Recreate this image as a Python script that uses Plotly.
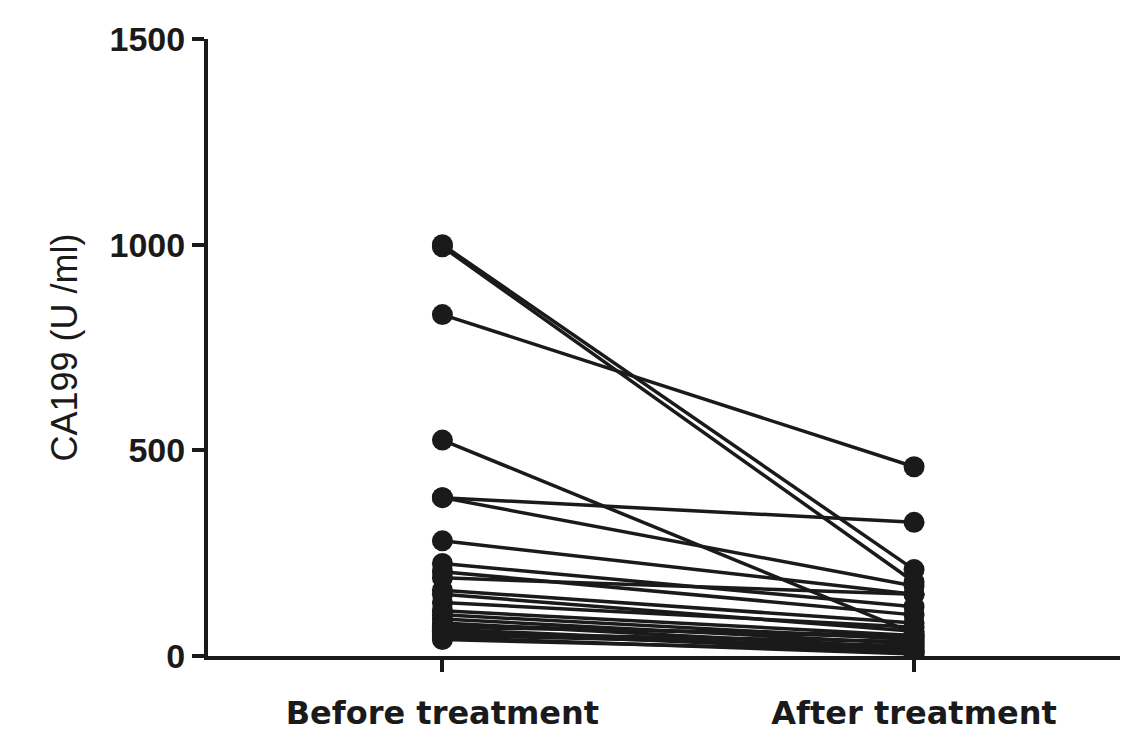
import plotly.graph_objects as go

groups = ["Before treatment", "After treatment"]
before = [1000, 995, 830, 525, 385, 385, 280, 225, 205, 190, 160, 150, 130, 110, 100, 90, 80, 75, 70, 65, 60, 55, 50, 45, 40]
after = [210, 180, 460, 55, 325, 170, 150, 120, 100, 150, 80, 60, 70, 50, 40, 30, 20, 45, 50, 15, 10, 35, 25, 5, 12]
y_ticks = [0, 500, 1000, 1500]

fig = go.Figure()
for b, a in zip(before, after):
    fig.add_trace(go.Scatter(
        x=[0, 1], y=[b, a], mode="lines+markers",
        line={"color": "#1a1a1a", "width": 3.5},
        marker={"color": "#1a1a1a", "size": 21},
        showlegend=False,
    ))

fig.update_layout(
    width=1128, height=736,
    margin={"l": 200, "r": 13, "t": 27, "b": 86},
    plot_bgcolor="white", paper_bgcolor="white",
    font={"family": "Liberation Sans, Arial", "color": "#1a1a1a"},
)
fig.update_xaxes(
    range=[-0.497, 1.443], tickvals=[0, 1], ticktext=groups,
    showline=True, linecolor="#1a1a1a", linewidth=4, showgrid=False, zeroline=False,
    ticks="outside", ticklen=12, tickwidth=4, tickcolor="#1a1a1a",
    ticklabelstandoff=14,
    tickfont={"size": 32, "family": "DejaVu Sans", "weight": "bold"},
)
fig.update_yaxes(
    range=[0, 1500], tickvals=y_ticks,
    showline=True, linecolor="#1a1a1a", linewidth=4, showgrid=False, zeroline=False,
    ticks="outside", ticklen=12, tickwidth=4, tickcolor="#1a1a1a",
    tickfont={"size": 34, "weight": "bold"},
    title={"text": "CA199 (U /ml)", "font": {"size": 36}, "standoff": 22},
)
fig.write_html("out.html")
